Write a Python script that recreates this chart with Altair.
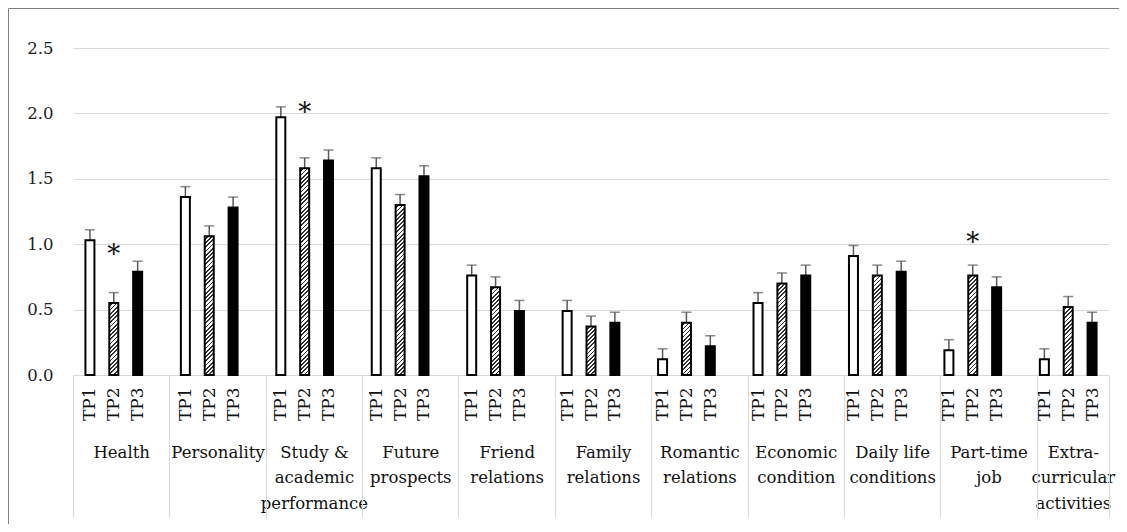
import json
import altair as alt
import pandas as pd

# ---------------- data ----------------
categories = [
    "Health", "Personality", "Study &|academic|performance", "Future|prospects",
    "Friend|relations", "Family|relations", "Romantic|relations",
    "Economic|condition", "Daily life|conditions", "Part-time|job",
    "Extra-|curricular|activities",
]
tp_labels = ["TP1", "TP2", "TP3"]
tp1_mean = [1.03, 1.36, 1.97, 1.58, 0.76, 0.49, 0.12, 0.55, 0.91, 0.19, 0.12]
tp2_mean = [0.55, 1.06, 1.58, 1.30, 0.67, 0.37, 0.40, 0.70, 0.76, 0.76, 0.52]
tp3_mean = [0.79, 1.28, 1.64, 1.52, 0.49, 0.40, 0.22, 0.76, 0.79, 0.67, 0.40]
tp1_err = [0.08, 0.08, 0.08, 0.08, 0.08, 0.08, 0.08, 0.08, 0.08, 0.08, 0.08]
tp2_err = [0.08, 0.08, 0.08, 0.08, 0.08, 0.08, 0.08, 0.08, 0.08, 0.08, 0.08]
tp3_err = [0.08, 0.08, 0.08, 0.08, 0.08, 0.08, 0.08, 0.08, 0.08, 0.08, 0.08]
star_category = ["Health", "Study &|academic|performance", "Part-time|job"]
star_tp = ["TP2", "TP2", "TP2"]
star_level = [0.95, 2.03, 1.04]
y_ticks = [0.0, 0.5, 1.0, 1.5, 2.0, 2.5]

# ---------------- layout / style ----------------
W, H = 1036, 327
BAR = 9
YMAX = 2.5
PPU = H / YMAX
SLOTS = 4 * (len(categories) - 1) + 3
FONT = "DejaVu Serif"
GRID = "#d9d9d9"


def hatch(v):
    w = BAR
    h = max(v * PPU, 1.0)
    k = (w + h) / (w * w + h * h)
    period = 4.2
    n = max(1, round((w + h) / period))
    dark = 0.42
    stops = []
    for i in range(n):
        a = i / n
        b = (i + 1 - dark) / n
        c = (i + 1) / n
        stops += [
            {"offset": a, "color": "#ffffff"},
            {"offset": b, "color": "#ffffff"},
            {"offset": b, "color": "#333333"},
            {"offset": c, "color": "#333333"},
        ]
    return {"gradient": "linear", "x1": 0, "y1": 0, "x2": w * k, "y2": h * k, "stops": stops}


means = [tp1_mean, tp2_mean, tp3_mean]
errs = [tp1_err, tp2_err, tp3_err]
rows = []
for g, cat in enumerate(categories):
    for t, tp in enumerate(tp_labels):
        v = means[t][g]
        if t == 0:
            fill = "#ffffff"
        elif t == 1:
            fill = hatch(v)
        else:
            fill = "#000000"
        rows.append({"cat": cat, "tp": tp, "pos": 4 * g + t + 0.5,
                     "value": v, "upper": v + errs[t][g], "fill": fill})
df = pd.DataFrame(rows)

stars = pd.DataFrame({
    "pos": [4 * categories.index(c) + tp_labels.index(t) + 0.5 for c, t in zip(star_category, star_tp)],
    "level": star_level,
})

centers = [4 * g + 2 for g in range(len(categories) - 1)] + [4 * (len(categories) - 1) + 1.5]
bounds = [4 * g for g in range(len(categories))] + [SLOTS]
tp_values = [4 * g + t + 0.5 for g in range(len(categories)) for t in range(3)]

xscale = alt.Scale(domain=[0, SLOTS], nice=False, zero=False)
yscale = alt.Scale(domain=[0, YMAX], nice=False)

tp_axis = alt.Axis(
    orient="bottom", values=tp_values, title=None, grid=False, ticks=False,
    domain=True, domainColor=GRID, domainWidth=1,
    labelExpr=json.dumps(tp_labels) + "[floor(datum.value) % 4]",
    labelAngle=270, labelFont=FONT, labelFontSize=17, labelColor="#111111",
    labelPadding=12, labelFlush=False, labelOverlap=False, labelBound=False,
)
y_axis = alt.Axis(
    values=y_ticks, format=".1f", title=None, grid=True, gridColor=GRID,
    gridWidth=1, domain=False, ticks=False, labelFont=FONT, labelFontSize=16.5,
    labelColor="#222222", labelPadding=20, labelOverlap=False,
)

X = alt.X("pos:Q", scale=xscale, axis=tp_axis)
base = alt.Chart(df)
err_rule = base.mark_rule(color="#595959", strokeWidth=1.5).encode(
    x=X,
    y=alt.Y("value:Q", scale=yscale, axis=y_axis),
    y2="upper:Q",
)
caps = base.mark_tick(orient="horizontal", size=10, thickness=1.5, color="#595959").encode(
    x=X,
    y=alt.Y("upper:Q", scale=yscale, axis=y_axis),
)
bars = base.mark_bar(size=BAR, stroke="#000000", strokeWidth=2).encode(
    x=X,
    y=alt.Y("value:Q", scale=yscale, axis=y_axis),
    fill=alt.Fill("fill:N", scale=None),
)
star_marks = alt.Chart(stars).mark_text(
    text="*", font=FONT, fontSize=26, baseline="middle", align="center",
    color="#111111", dy=4,
).encode(
    x=alt.X("pos:Q", scale=xscale, axis=tp_axis),
    y=alt.Y("level:Q", scale=yscale, axis=y_axis),
)
main = alt.layer(err_rule, caps, bars, star_marks)

cat_lines = [c.split("|") for c in categories]
cat_layer = alt.Chart(pd.DataFrame({"c": centers})).mark_point(opacity=0).encode(
    x=alt.X("c:Q", scale=xscale, axis=alt.Axis(
        orient="bottom", values=centers, title=None, grid=False, ticks=False,
        domain=False, labelExpr=json.dumps(cat_lines) + "[floor(datum.value / 4)]",
        labelFont=FONT, labelFontSize=16.5, labelLineHeight=25.5,
        labelColor="#111111", labelPadding=69, labelFlush=False, labelOverlap=False,
        labelBound=False, labelAngle=0,
    )),
)
sep_layer = alt.Chart(pd.DataFrame({"b": bounds})).mark_point(opacity=0).encode(
    x=alt.X("b:Q", scale=xscale, axis=alt.Axis(
        orient="bottom", values=bounds, title=None, grid=False, ticks=True,
        tickSize=142, tickColor=GRID, tickWidth=1, domain=False, labels=False,
    )),
)
frame = alt.Chart(pd.DataFrame({"a": [0]})).mark_rect(
    filled=False, stroke="#808080", strokeWidth=1
).encode(
    x=alt.value(-64.5), x2=alt.value(W + 300),
    y=alt.value(-39.5), y2=alt.value(H + 400),
)

chart = alt.layer(main, cat_layer, sep_layer, frame).resolve_scale(
    x="independent"
).properties(
    width=W, height=H,
    autosize=alt.AutoSizeParams(type="none"),
    padding={"left": 65, "top": 40, "right": 10, "bottom": 149},
    background="white",
).configure_view(stroke=None).configure_axis(labelOverlap=False)

chart.save("out.html", embed_options={"renderer": "svg", "actions": False})
